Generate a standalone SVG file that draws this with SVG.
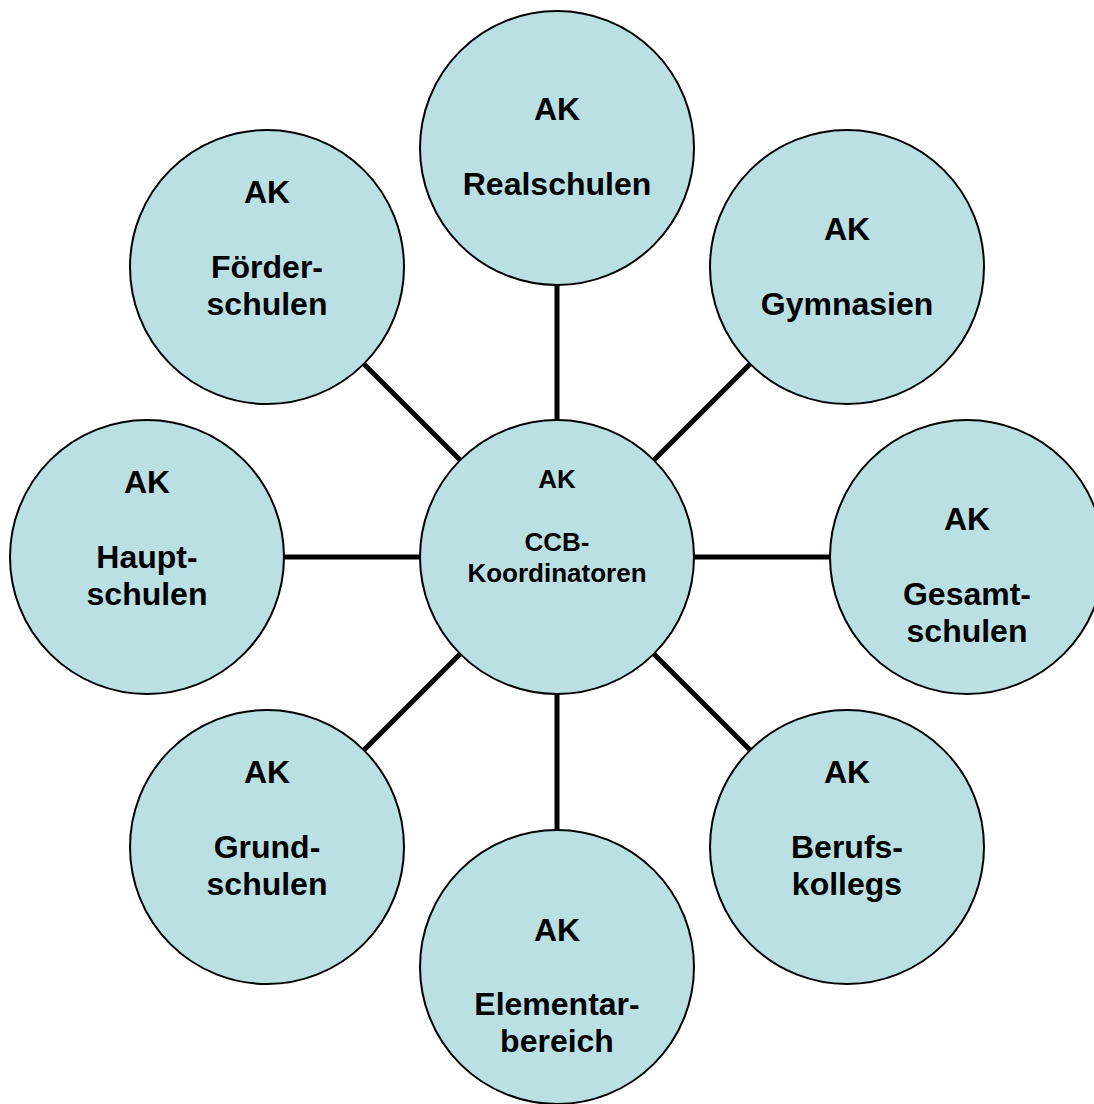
<svg xmlns="http://www.w3.org/2000/svg" width="1094" height="1104" viewBox="0 0 1094 1104">
<style>
.node circle{fill:#BBE0E3;stroke:#000;stroke-width:2}
.t{font-family:"Liberation Sans",Arial,sans-serif;font-weight:bold;font-size:32px;text-anchor:middle;fill:#000}
.c{font-size:26px}
.conn line{stroke:#000;stroke-width:5}
</style>
<rect width="1094" height="1104" fill="#fff"/>
<g id="connectors" class="conn">
<line x1="557" y1="285" x2="557" y2="420"/>
<line x1="653.9" y1="460.1" x2="750.1" y2="363.9"/>
<line x1="694" y1="557" x2="830" y2="557"/>
<line x1="653.9" y1="653.9" x2="750.1" y2="750.1"/>
<line x1="557" y1="694" x2="557" y2="830"/>
<line x1="460.1" y1="653.9" x2="363.9" y2="750.1"/>
<line x1="284" y1="557" x2="420" y2="557"/>
<line x1="460.1" y1="460.1" x2="363.9" y2="363.9"/>
</g>
<g id="center" class="node"><circle cx="557" cy="557" r="137"/>
<text class="t c" x="557" y="488">AK</text><text class="t c" x="557" y="551">CCB-</text><text class="t c" x="557" y="582">Koordinatoren</text></g>
<g id="realschulen" class="node"><circle cx="557" cy="148" r="137"/>
<text class="t" x="557" y="120">AK</text><text class="t" x="557" y="195">Realschulen</text></g>
<g id="gymnasien" class="node"><circle cx="847" cy="267" r="137"/>
<text class="t" x="847" y="240">AK</text><text class="t" x="847" y="315">Gymnasien</text></g>
<g id="gesamtschulen" class="node"><circle cx="967" cy="557" r="137"/>
<text class="t" x="967" y="530">AK</text><text class="t" x="967" y="605">Gesamt-</text><text class="t" x="967" y="642">schulen</text></g>
<g id="berufskollegs" class="node"><circle cx="847" cy="847" r="137"/>
<text class="t" x="847" y="783">AK</text><text class="t" x="847" y="858">Berufs-</text><text class="t" x="847" y="895">kollegs</text></g>
<g id="elementarbereich" class="node"><circle cx="557" cy="967" r="137"/>
<text class="t" x="557" y="941">AK</text><text class="t" x="557" y="1015">Elementar-</text><text class="t" x="557" y="1052">bereich</text></g>
<g id="grundschulen" class="node"><circle cx="267" cy="847" r="137"/>
<text class="t" x="267" y="783">AK</text><text class="t" x="267" y="858">Grund-</text><text class="t" x="267" y="895">schulen</text></g>
<g id="hauptschulen" class="node"><circle cx="147" cy="557" r="137"/>
<text class="t" x="147" y="493">AK</text><text class="t" x="147" y="568">Haupt-</text><text class="t" x="147" y="605">schulen</text></g>
<g id="foerderschulen" class="node"><circle cx="267" cy="267" r="137"/>
<text class="t" x="267" y="203">AK</text><text class="t" x="267" y="278">Förder-</text><text class="t" x="267" y="315">schulen</text></g>
</svg>
